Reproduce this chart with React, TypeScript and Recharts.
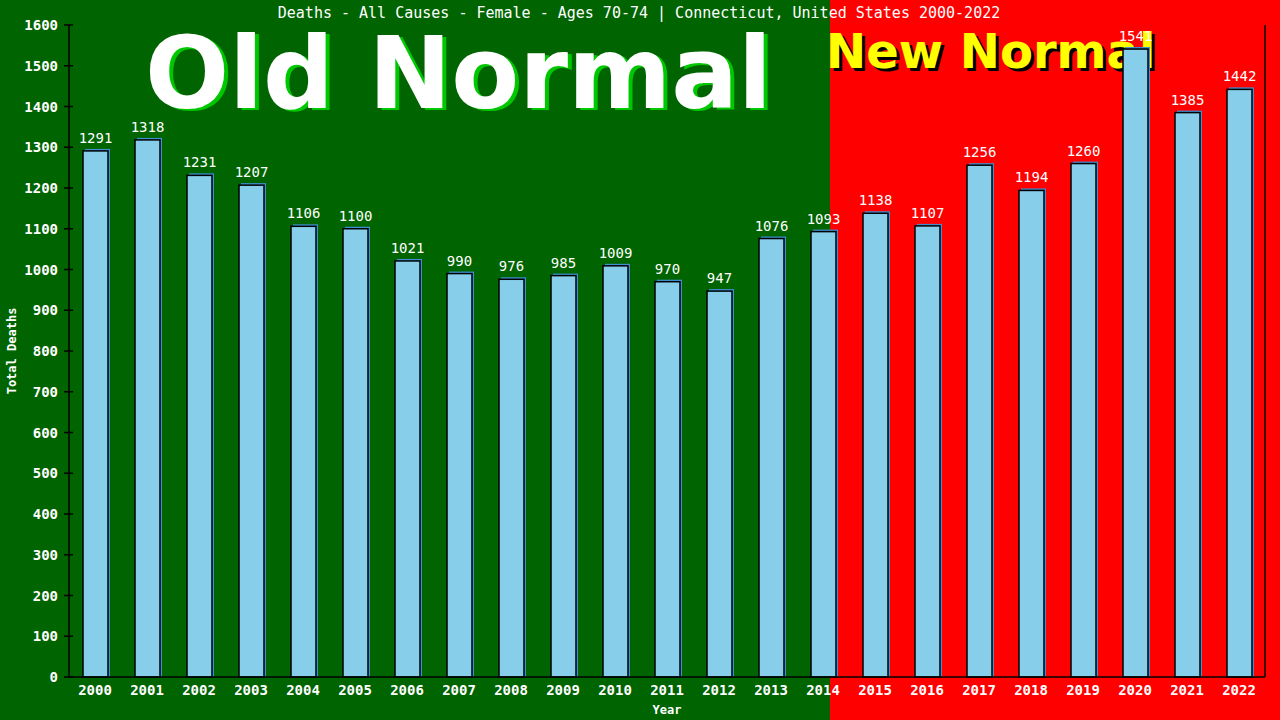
import React from 'react';
import { BarChart, Bar, XAxis, YAxis, LabelList } from 'recharts';

const years = ['2000','2001','2002','2003','2004','2005','2006','2007','2008','2009','2010','2011','2012','2013','2014','2015','2016','2017','2018','2019','2020','2021','2022'];
const deaths = [1291,1318,1231,1207,1106,1100,1021,990,976,985,1009,970,947,1076,1093,1138,1107,1256,1194,1260,1541,1385,1442];
const yTicks = [0,100,200,300,400,500,600,700,800,900,1000,1100,1200,1300,1400,1500,1600];
const title = 'Deaths - All Causes - Female - Ages 70-74 | Connecticut, United States 2000-2022';

const data = years.map((y, i) => ({ year: y, value: deaths[i] }));

const MONO = '"DejaVu Sans Mono", monospace';
const BOLD = '"DejaVu Sans", sans-serif';

const BarShape = (props: any) => {
  const { x, y, width, height } = props;
  if (height == null || height <= 0) return null;
  return (
    <g>
      <rect x={x + 2} y={y - 2} width={width} height={height + 2} fill="#3f8fd2" />
      <rect x={x} y={y} width={width} height={height} fill="#87CEEB" stroke="#000" strokeWidth={1.5} />
    </g>
  );
};

const YTick = (props: any) => {
  const { x, y, payload } = props;
  return (
    <g>
      <line x1={x + 6} x2={x + 15} y1={y} y2={y} stroke="#000" strokeWidth={1.5} />
      <text x={x} y={y} dy={5} textAnchor="end" fill="#fff" fontFamily={MONO} fontWeight="bold" fontSize={14}>
        {payload.value}
      </text>
    </g>
  );
};

const XTick = (props: any) => {
  const { x, y, payload } = props;
  return (
    <text x={x} y={y} dy={10} textAnchor="middle" fill="#fff" fontFamily={MONO} fontWeight="bold" fontSize={14}>
      {payload.value}
    </text>
  );
};

export default function App() {
  return (
    <div
      style={{
        position: 'absolute',
        left: 0,
        top: 0,
        width: 1280,
        height: 720,
        background: 'linear-gradient(to right, #006400 0px, #006400 830px, #ff0000 830px, #ff0000 1280px)',
        overflow: 'hidden',
      }}
    >
      <svg width={1280} height={720} style={{ position: 'absolute', left: 0, top: 0 }}>
        <text x={639} y={18} textAnchor="middle" fill="#fff" fontFamily={MONO} fontSize={15}>
          {title}
        </text>
        <text x={149} y={110} fill="#00c800" fontFamily={BOLD} fontWeight="bold" fontSize={99}>Old Normal</text>
        <text x={145} y={108} fill="#fff" fontFamily={BOLD} fontWeight="bold" fontSize={99}>Old Normal</text>
        <text x={829} y={71} fill="#000" fontFamily={BOLD} fontWeight="bold" fontSize={48}>New Normal</text>
        <text x={826} y={68} fill="#ffff00" fontFamily={BOLD} fontWeight="bold" fontSize={48}>New Normal</text>
      </svg>
      <div style={{ position: 'absolute', left: 0, top: 0 }}>
        <BarChart width={1280} height={720} data={data} margin={{ top: 25, right: 0, bottom: 0, left: 0 }} barCategoryGap={0}>
          <XAxis
            dataKey="year"
            height={43}
            interval={0}
            tickLine={false}
            tickSize={0}
            tickMargin={8}
            tick={<XTick />}
            axisLine={{ stroke: '#000', strokeWidth: 1.5 }}
            label={{ value: 'Year', position: 'insideBottom', offset: 6, fill: '#fff', fontFamily: MONO, fontWeight: 'bold', fontSize: 12 }}
          />
          <YAxis
            yAxisId="l"
            width={69}
            domain={[0, 1600]}
            ticks={yTicks}
            interval={0}
            tickLine={false}
            tickSize={5}
            tickMargin={6}
            tick={<YTick />}
            axisLine={{ stroke: '#000', strokeWidth: 1.5 }}
            label={{ value: 'Total Deaths', angle: -90, position: 'insideLeft', offset: 12, fill: '#fff', fontFamily: MONO, fontWeight: 'bold', fontSize: 12, style: { textAnchor: 'middle' } }}
          />
          <YAxis
            yAxisId="r"
            orientation="right"
            width={15}
            domain={[0, 1600]}
            tick={false}
            tickLine={false}
            axisLine={{ stroke: '#000', strokeWidth: 1.5 }}
          />
          <Bar yAxisId="l" dataKey="value" barSize={25} shape={<BarShape />} isAnimationActive={false}>
            <LabelList dataKey="value" position="top" offset={8} fill="#fff" fontFamily={MONO} fontSize={14} />
          </Bar>
        </BarChart>
      </div>
    </div>
  );
}
